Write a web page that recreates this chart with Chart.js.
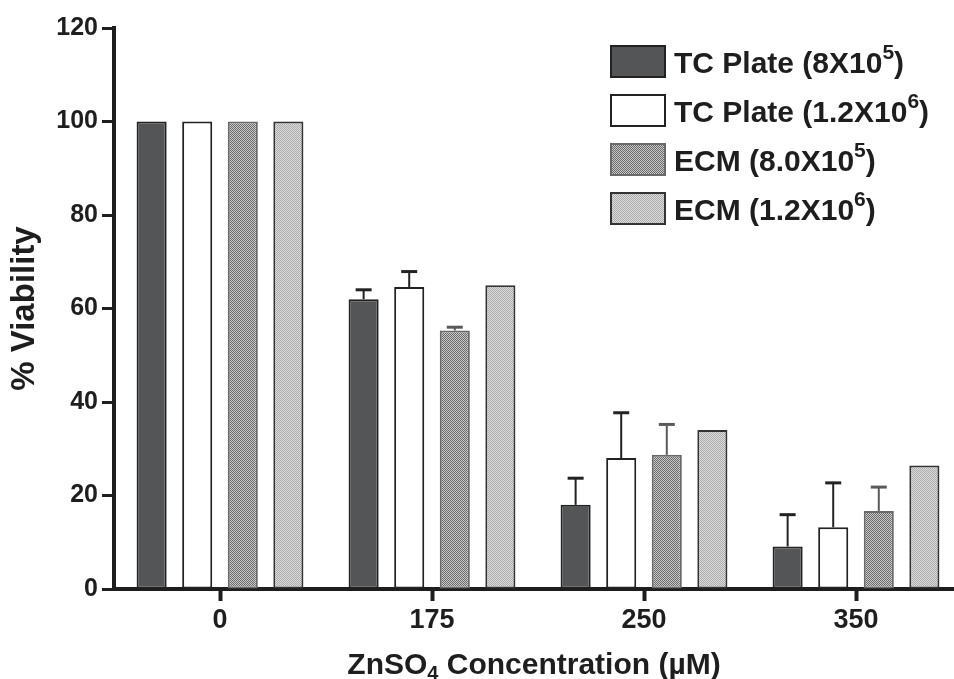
<!DOCTYPE html>
<html>
<head>
<meta charset="utf-8">
<script src="https://cdn.jsdelivr.net/npm/chart.js@4.4.0/dist/chart.umd.min.js"></script>
<style>
  html, body { margin: 0; padding: 0; background: #fff; overflow: hidden; }
  #wrap { width: 954px; height: 679px; overflow: hidden; }
</style>
</head>
<body>
<div id="wrap"><canvas id="viability" width="975" height="679"></canvas></div>
<script>
// data
const concentrations = ['0', '175', '250', '350'];
const yTicks = [0, 20, 40, 60, 80, 100, 120];
const seriesNames = ['TC Plate (8X10⁵)', 'TC Plate (1.2X10⁶)', 'ECM (8.0X10⁵)', 'ECM (1.2X10⁶)'];
const xTitle = 'ZnSO₄ Concentration (µM)';
const yTitle = '% Viability';

const tcPlate8 = [100, 62.0, 18.0, 9.1];
const tcPlate12 = [100, 64.6, 28.0, 13.2];
const ecm8 = [100, 55.3, 28.7, 16.7];
const ecm12 = [100, 65.0, 34.0, 26.4];

const tcPlate8Err = [0, 2.0, 5.7, 6.8];
const tcPlate12Err = [0, 3.3, 9.7, 9.5];
const ecm8Err = [0, 0.7, 6.5, 5.1];
const ecm12Err = [0, 0, 0, 0];

const FONT = "'Liberation Sans', Arial, Helvetica, sans-serif";
const INK = '#1e1e1e';

function checker(c1, c2) {
    const p = document.createElement('canvas');
    p.width = 2; p.height = 2;
    const g = p.getContext('2d');
    g.fillStyle = c1; g.fillRect(0, 0, 2, 2);
    g.fillStyle = c2; g.fillRect(0, 0, 1, 1); g.fillRect(1, 1, 1, 1);
    return g.createPattern(p, 'repeat');
}

const SUP = {'⁰':'0','¹':'1','²':'2','³':'3','⁴':'4','⁵':'5','⁶':'6','⁷':'7','⁸':'8','⁹':'9'};
const SUB = {'₀':'0','₁':'1','₂':'2','₃':'3','₄':'4','₅':'5','₆':'6','₇':'7','₈':'8','₉':'9'};

// draws text with unicode super/subscripts raised or lowered
function drawRich(ctx, text, x, y, size, align, small) {
    const runs = [];
    for (const ch of text) {
        let kind = 'n', c = ch;
        if (SUP[ch]) { kind = 'sup'; c = SUP[ch]; }
        else if (SUB[ch]) { kind = 'sub'; c = SUB[ch]; }
        const last = runs[runs.length - 1];
        if (last && last.kind === kind) last.t += c; else runs.push({kind: kind, t: c});
    }
    let total = 0;
    runs.forEach(r => {
        r.size = r.kind === 'n' ? size : small;
        ctx.font = 'bold ' + r.size + 'px ' + FONT;
        r.w = ctx.measureText(r.t).width;
        total += r.w;
    });
    let cx = align === 'center' ? x - total / 2 : x;
    ctx.textAlign = 'left';
    ctx.textBaseline = 'alphabetic';
    const base = y + size * 0.36;
    runs.forEach(r => {
        ctx.font = 'bold ' + r.size + 'px ' + FONT;
        let dy = 0;
        if (r.kind === 'sup') dy = -size * 0.45;
        if (r.kind === 'sub') dy = size * 0.2;
        ctx.fillText(r.t, cx, base + dy);
        cx += r.w;
    });
}

const errorBars = {
    id: 'errorBars',
    afterDatasetsDraw(chart) {
        const ctx = chart.ctx;
        const y = chart.scales.y;
        chart.data.datasets.forEach((ds, i) => {
            const meta = chart.getDatasetMeta(i);
            meta.data.forEach((bar, j) => {
                const e = ds.errors[j];
                if (!e) return;
                const top = y.getPixelForValue(ds.data[j] + e);
                ctx.save();
                ctx.strokeStyle = ds.errorColor;
                ctx.lineWidth = 2;
                ctx.beginPath();
                ctx.moveTo(bar.x, bar.y);
                ctx.lineTo(bar.x, top);
                ctx.stroke();
                ctx.lineWidth = 3;
                ctx.beginPath();
                ctx.moveTo(bar.x - 8, top);
                ctx.lineTo(bar.x + 8, top);
                ctx.stroke();
                ctx.restore();
            });
        });
    }
};

const boxLegend = {
    id: 'boxLegend',
    afterDraw(chart) {
        const ctx = chart.ctx;
        ctx.save();
        chart.data.datasets.forEach((ds, i) => {
            const top = 46 + i * 49;
            ctx.fillStyle = ds.backgroundColor;
            ctx.fillRect(611, top, 54, 31);
            ctx.strokeStyle = ds.borderColor;
            ctx.lineWidth = 2;
            ctx.strokeRect(611, top, 54, 31);
            ctx.fillStyle = INK;
            drawRich(ctx, ds.label, 674, top + 16, 30, 'left', 21);
        });
        // x axis title
        ctx.fillStyle = INK;
        drawRich(ctx, xTitle, 534, 663, 30, 'center', 20);
        ctx.restore();
    }
};

function makeSet(label, data, errors, fill, border, errColor) {
    return {
        label: label,
        data: data,
        errors: errors,
        errorColor: errColor,
        backgroundColor: fill,
        borderColor: border,
        borderWidth: 2,
        borderSkipped: false
    };
}

const ctx1 = document.getElementById('viability');
new Chart(ctx1, {
    type: 'bar',
    data: {
        labels: concentrations,
        datasets: [
            makeSet(seriesNames[0], tcPlate8, tcPlate8Err, '#545557', '#222222', '#222222'),
            makeSet(seriesNames[1], tcPlate12, tcPlate12Err, '#ffffff', '#222222', '#222222'),
            makeSet(seriesNames[2], ecm8, ecm8Err, checker('#c9c9c9', '#6a6a6a'), '#6a6a6a', '#5a5a5a'),
            makeSet(seriesNames[3], ecm12, ecm12Err, checker('#dcdcdc', '#ababab'), '#333333', '#333333')
        ]
    },
    options: {
        responsive: false,
        animation: false,
        categoryPercentage: 0.86,
        barPercentage: 0.66,
        layout: {
            padding: { top: 28, right: 13, left: 0, bottom: 0 }
        },
        plugins: {
            legend: { display: false },
            tooltip: { enabled: false }
        },
        scales: {
            x: {
                afterFit: (s) => { s.height = 90; },
                grid: {
                    offset: false,
                    drawOnChartArea: false,
                    tickLength: 12,
                    tickWidth: 4,
                    tickColor: INK
                },
                border: { color: INK, width: 4 },
                ticks: {
                    padding: 3,
                    color: INK,
                    font: { family: FONT, size: 27, weight: 'bold' }
                }
            },
            y: {
                min: yTicks[0],
                max: yTicks[yTicks.length - 1],
                afterFit: (s) => { s.width = 114; },
                grid: {
                    drawOnChartArea: false,
                    tickLength: 12,
                    tickWidth: 3,
                    tickColor: INK
                },
                border: { color: INK, width: 4 },
                ticks: {
                    stepSize: yTicks[1] - yTicks[0],
                    padding: 4,
                    color: INK,
                    font: { family: FONT, size: 25, weight: 'bold' }
                },
                title: {
                    display: true,
                    text: yTitle,
                    color: INK,
                    padding: { top: 5, bottom: 0 },
                    font: { family: FONT, size: 33, weight: 'bold' }
                }
            }
        }
    },
    plugins: [errorBars, boxLegend]
});
</script>
</body>
</html>
